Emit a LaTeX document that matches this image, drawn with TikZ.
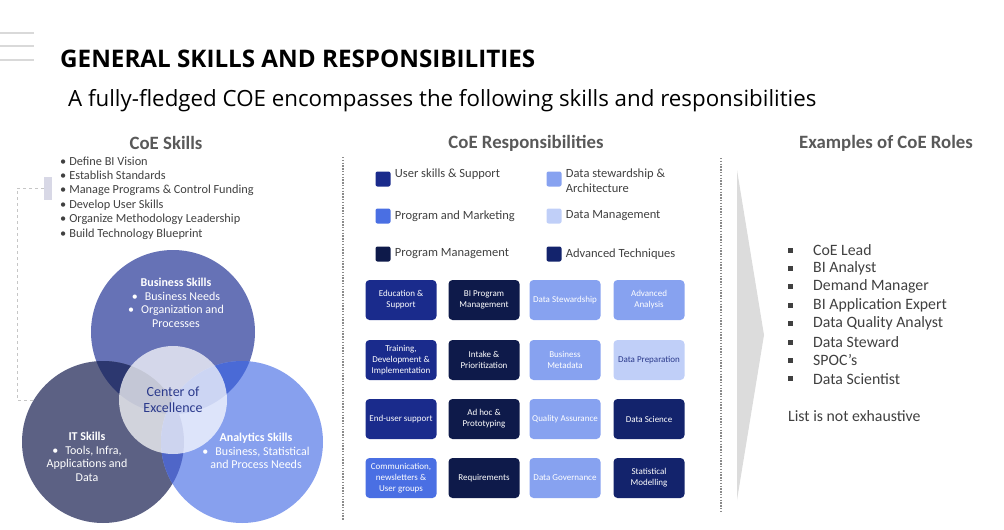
\documentclass[tikz,border=0pt]{standalone}
\usepackage{fontspec}
\setmainfont{Carlito}
\newfontfamily\headfont{Open Sans}
\usetikzlibrary{positioning}
\definecolor{usercol}{HTML}{1A2B8C}
\definecolor{progcol}{HTML}{4A6FE3}
\definecolor{pmcol}{HTML}{0E1A4A}
\definecolor{stewcol}{HTML}{87A2F0}
\definecolor{dmcol}{HTML}{C0CFF8}
\definecolor{advcol}{HTML}{13236C}
\definecolor{bizcol}{HTML}{6672B6}
\definecolor{itcol}{HTML}{5C6184}
\definecolor{anacol}{HTML}{87A0EE}
\definecolor{bizit}{HTML}{2C376F}
\definecolor{bizana}{HTML}{4A6AD6}
\definecolor{itana}{HTML}{4F66C8}
\definecolor{headgray}{HTML}{595959}
\definecolor{textgray}{HTML}{404040}
\definecolor{coenavy}{HTML}{2B3A8C}
\definecolor{tabcol}{HTML}{D8D8E6}
\definecolor{chevcol}{HTML}{DCDCDC}
\tikzset{
  head/.style={font=\bfseries\fontsize{18.8}{21}\selectfont,text=headgray},
  skill/.style={anchor=west,font=\fontsize{12.3}{14}\selectfont,text=textgray,inner sep=0pt},
  circtext/.style={align=center,text=white,font=\fontsize{12}{13.5}\selectfont,inner sep=0pt},
  leg/.style={anchor=west,align=left,font=\fontsize{12.5}{15}\selectfont,text=textgray,inner sep=0pt},
  legsq/.style={rounded corners=2pt,minimum size=15pt,inner sep=0pt},
  resp/.style={rounded corners=4pt,minimum width=71pt,minimum height=40pt,align=center,inner sep=1pt,
    text=white,font=\fontsize{9}{11}\selectfont},
  role/.style={anchor=west,font=\fontsize{15.8}{17}\selectfont,text=textgray,inner sep=0pt},
  sep/.style={headgray!70,line width=1.3pt,dash pattern=on 1.3pt off 1.5pt}
}
\begin{document}
\begin{tikzpicture}[x=1pt,y=-1pt]
\useasboundingbox (0,0) rectangle (1004,530);
% header
\foreach \y in {33,46,60}{\draw[gray!30,line width=1.2pt] (0,\y)--(34,\y);}
\node[anchor=west,inner sep=0pt,font=\headfont\bfseries\fontsize{24.2}{27}\selectfont] (title) at (60,59) {GENERAL SKILLS AND RESPONSIBILITIES};
\node[anchor=west,inner sep=0pt,font=\headfont\fontsize{22.3}{25}\selectfont] (subtitle) at (68,101) {A fully-fledged COE encompasses the following skills and responsibilities};
% column headings and separators
\node[head] (skillshead) at (166,143) {CoE Skills};
\node[head] (resphead) at (526,143) {CoE Responsibilities};
\node[head] (roleshead) at (886,143) {Examples of CoE Roles};
\draw[sep] (343,157)--(343,520);
\draw[sep] (721,158)--(721,512);
% skills list
\fill[tabcol] (44,177) rectangle (52,200);
\draw[gray!45,dashed,line width=.8pt] (44,188)--(17,188)--(17,400)--(118,400);
\foreach \t [count=\i from 0] in {Define BI Vision,Establish Standards,Manage Programs \& Control Funding,Develop User Skills,Organize Methodology Leadership,Build Technology Blueprint}{
\node[skill] (sk\i) at (60,161+14.6*\i) {\textbullet\hspace{3pt}\t};}
% venn
\fill[bizcol] (173,332) circle (82pt);
\fill[itcol] (103,442) circle (81pt);
\fill[anacol] (242,442) circle (81pt);
\begin{scope}\clip (173,332) circle (82pt);\fill[bizit] (103,442) circle (81pt);\fill[bizana] (242,442) circle (81pt);\end{scope}
\begin{scope}\clip (103,442) circle (81pt);\fill[itana] (242,442) circle (81pt);\end{scope}
\fill[white,opacity=.72] (173,400) circle (54pt);
\node[circtext] (biz) at (176,303) {\textbf{Business Skills}\\\textbullet\hspace{7pt}Business Needs\\\textbullet\hspace{7pt}Organization and\\Processes};
\node[circtext] (it) at (87,457) {\textbf{IT Skills}\\\textbullet\hspace{7pt}Tools, Infra,\\Applications and\\Data};
\node[circtext] (ana) at (256,451) {\textbf{Analytics Skills}\\\textbullet\hspace{7pt}Business, Statistical\\and Process Needs};
\node[align=center,text=coenavy,font=\fontsize{14}{16}\selectfont,inner sep=0pt] (coe) at (173,400) {Center of\\Excellence};
% legend
\node[legsq,fill=usercol] (lg1) at (383,179) {};\node[leg,right=4pt of lg1.north east,anchor=north west,yshift=3pt] {User skills \& Support};
\node[legsq,fill=progcol] (lg2) at (383,216) {};\node[leg,right=4pt of lg2] {Program and Marketing};
\node[legsq,fill=pmcol] (lg3) at (383,254) {};\node[leg,right=4pt of lg3] {Program Management};
\node[legsq,fill=stewcol] (lg4) at (554,179) {};\node[leg,right=4pt of lg4.north east,anchor=north west,yshift=3pt] {Data stewardship \&\\Architecture};
\node[legsq,fill=dmcol] (lg5) at (554,216) {};\node[leg,right=4pt of lg5] {Data Management};
\node[legsq,fill=advcol] (lg6) at (554,254) {};\node[leg,right=4pt of lg6] {Advanced Techniques};
% responsibility boxes
\foreach \r/\y in {1/300,2/360,3/419,4/478}{\foreach \c/\x in {1/401,2/484,3/565,4/649}{\coordinate (p\r\c) at (\x,\y);}}
\node[resp,fill=usercol] (b11) at (p11) {Education \&\\Support};
\node[resp,fill=pmcol] (b12) at (p12) {BI Program\\Management};
\node[resp,fill=stewcol] (b13) at (p13) {Data Stewardship};
\node[resp,fill=stewcol] (b14) at (p14) {Advanced\\Analysis};
\node[resp,fill=usercol] (b21) at (p21) {Training,\\Development \&\\Implementation};
\node[resp,fill=pmcol] (b22) at (p22) {Intake \&\\Prioritization};
\node[resp,fill=stewcol] (b23) at (p23) {Business\\Metadata};
\node[resp,fill=dmcol,text=coenavy] (b24) at (p24) {Data Preparation};
\node[resp,fill=usercol] (b31) at (p31) {End-user support};
\node[resp,fill=pmcol] (b32) at (p32) {Ad hoc \&\\Prototyping};
\node[resp,fill=stewcol] (b33) at (p33) {Quality Assurance};
\node[resp,fill=advcol] (b34) at (p34) {Data Science};
\node[resp,fill=progcol] (b41) at (p41) {Communication,\\newsletters \&\\User groups};
\node[resp,fill=pmcol] (b42) at (p42) {Requirements};
\node[resp,fill=stewcol] (b43) at (p43) {Data Governance};
\node[resp,fill=advcol] (b44) at (p44) {Statistical\\Modelling};
% roles
\fill[chevcol] (737,170)--(764,335)--(737,500)--cycle;
\foreach \t [count=\i from 0] in {CoE Lead,BI Analyst,Demand Manager,BI Application Expert,Data Quality Analyst,Data Steward,SPOC’s,Data Scientist}{
\fill[textgray] (788,247.5+18.4*\i) rectangle (793,252.5+18.4*\i);
\node[role] (rl\i) at (813,250+18.4*\i) {\t};}
\node[role] (note) at (788,416) {List is not exhaustive};
\end{tikzpicture}
\end{document}
